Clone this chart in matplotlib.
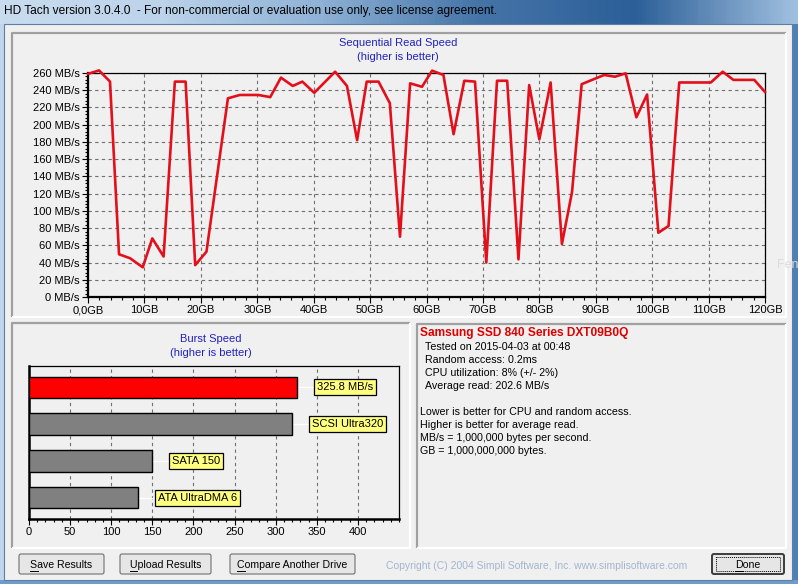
import numpy as np
import matplotlib
matplotlib.use("Agg")
import matplotlib.pyplot as plt
import matplotlib.patches as mpatches
from matplotlib.colors import LinearSegmentedColormap
from matplotlib.ticker import MultipleLocator

plt.rcParams['font.family'] = ['Liberation Sans', 'DejaVu Sans']

# --- Data ---
read_gb = [0, 1.95, 3.9, 5.5, 7.45, 9.7, 11.4, 13.4, 15.4, 17.3,
           19.0, 21.0, 24.8, 26.9, 30.2, 32.3, 34.2, 36.3, 38.0, 40.1,
           43.8, 45.9, 47.7, 49.4, 51.5, 53.5, 55.3, 57.1, 59.2, 61.0,
           63.0, 64.8, 66.7, 68.6, 70.6, 72.5, 74.3, 76.3, 78.2, 80.0,
           82.0, 84.0, 85.8, 87.5, 89.6, 91.5, 93.4, 95.3, 97.2, 99.1,
           101.1, 102.9, 104.8, 110.4, 112.5, 114.4, 118.1, 120.0]
read_mbs = [259, 263, 250, 49.6, 45, 34.5, 68, 47, 250, 250,
            37, 52.6, 230.6, 234.5, 234.5, 232, 254.6, 245, 250, 237,
            261.5, 245, 182, 250, 250, 225, 70, 248, 244, 262.7,
            257.7, 189, 251, 250, 40, 251, 251, 43.7, 246, 183,
            249, 61.5, 122, 247, 252.7, 257.7, 255.7, 259.6, 208.6, 235,
            74.6, 82.4, 249, 249, 261.5, 252, 252, 238]
gb_ticks = list(range(0, 121, 10))
gb_labels = ["0,0GB"] + [f"{g}GB" for g in gb_ticks[1:]]
mbs_ticks = list(range(0, 261, 20))
mbs_labels = [f"{m} MB/s" for m in mbs_ticks]

burst_names = ["325.8 MB/s", "SCSI Ultra320", "SATA 150", "ATA UltraDMA 6"]
burst_values = [325.8, 320, 150, 133]
burst_colors = ["#ff0000", "#808080", "#808080", "#808080"]
burst_ticks = list(range(0, 401, 50))

drive_name = "Samsung SSD 840 Series DXT09B0Q"
info_lines = ["Tested on 2015-04-03 at 00:48",
              "Random access: 0.2ms",
              "CPU utilization: 8% (+/- 2%)",
              "Average read: 202.6 MB/s"]
note_lines = ["Lower is better for CPU and random access.",
              "Higher is better for average read.",
              "MB/s = 1,000,000 bytes per second.",
              "GB = 1,000,000,000 bytes."]
buttons = ["Save Results", "Upload Results", "Compare Another Drive", "Done"]

W, H = 798, 584
BG = "#f0f0f0"

fig = plt.figure(figsize=(W / 100, H / 100), dpi=100)


def px_axes(x0, y0, x1, y1, **kw):
    return fig.add_axes([x0 / W, 1 - y1 / H, (x1 - x0) / W, (y1 - y0) / H], **kw)


# --- Window chrome ---
bg = px_axes(0, 0, W, H)
bg.set_xlim(0, W)
bg.set_ylim(H, 0)
bg.axis("off")
bg.add_patch(mpatches.Rectangle((0, 0), W, H, fc="#7fa6cf", ec="none", zorder=0.1))
cm = LinearSegmentedColormap.from_list("tb", ["#c9dcef", "#bcd3ea", "#8fb2d6",
                                             "#4574a8", "#2c5f98", "#9fbfdf"])
bg.imshow(np.linspace(0, 1, 200)[None, :], cmap=cm, extent=(0, W, 24, 0),
          aspect="auto", zorder=0.5)
bg.add_patch(mpatches.Rectangle((0, 24), 4, H, fc="#c1d6ec", ec="none", zorder=0.6))
bg.add_patch(mpatches.Rectangle((792, 24), 6, H, fc="#4f80b5", ec="none", zorder=0.6))
bg.add_patch(mpatches.Rectangle((0, 580), W, 4, fc="#6e9cca", ec="none", zorder=0.6))
bg.add_patch(mpatches.Rectangle((4, 24), 788, 556, fc=BG, ec="#5d7fa3", lw=0.8, zorder=0.7))
bg.text(4, 11, "HD Tach version 3.0.4.0  - For non-commercial or evaluation use only, see license agreement.",
        fontsize=8.6, va="center", ha="left", color="black", zorder=1)


def sunken(x0, y0, x1, y1):
    bg.plot([x0, x0, x1], [y1, y0, y0], color="#a0a0a0", lw=1.6, zorder=1, solid_capstyle="butt")
    bg.plot([x0, x1, x1], [y1, y1, y0], color="white", lw=1.6, zorder=1, solid_capstyle="butt")


sunken(12, 33, 786, 317)
sunken(12, 323, 410, 548)
sunken(417, 324, 786, 548)

# faint overlay text at the right edge
bg.text(777, 265, "Fen", fontsize=9, color="#dcdcdc", va="center", ha="left", zorder=1)

# --- Sequential read chart ---
bg.text(398, 43, "Sequential Read Speed", color="#2222bb", fontsize=8, ha="center", va="center")
bg.text(398, 57, "(higher is better)", color="#2222bb", fontsize=8, ha="center", va="center")

ax = px_axes(88, 73, 765, 297)
ax.set_facecolor(BG)
ax.plot(read_gb, read_mbs, color="#e3101c", lw=1.9, clip_on=False, zorder=3)
ax.set_xlim(0, 120)
ax.set_ylim(0, 260)
ax.set_xticks(gb_ticks)
ax.set_xticklabels(gb_labels)
ax.set_yticks(mbs_ticks)
ax.set_yticklabels(mbs_labels)
ax.xaxis.set_minor_locator(MultipleLocator(2))
ax.yaxis.set_minor_locator(MultipleLocator(4))
ax.tick_params(axis="both", which="major", length=4, width=0.8, labelsize=8, pad=2)
ax.tick_params(axis="both", which="minor", length=2, width=0.8)
ax.grid(True, which="major", color="#707070", ls=(0, (3, 3)), lw=0.8)
for s in ax.spines.values():
    s.set_linewidth(0.9)
ax.spines["left"].set_linewidth(1.6)
ax.spines["bottom"].set_linewidth(1.6)

# --- Burst speed chart ---
bg.text(211, 339, "Burst Speed", color="#2222bb", fontsize=8, ha="center", va="center")
bg.text(211, 353, "(higher is better)", color="#2222bb", fontsize=8, ha="center", va="center")

bx = px_axes(29, 366, 399, 519)
bx.set_facecolor(BG)
ypos = np.arange(len(burst_values))
bx.barh(ypos, burst_values, height=0.57, color=burst_colors, edgecolor="black", lw=1, zorder=3)
for y, v, name in zip(ypos, burst_values, burst_names):
    bx.plot([v, v + 24], [y, y], color="white", lw=1, zorder=2)
    bx.text(v + 24, y, name, fontsize=8, va="center", ha="left", zorder=4,
            bbox=dict(boxstyle="square,pad=0.25", fc="#ffff80", ec="black", lw=0.9))
bx.set_xlim(0, 450)
bx.set_ylim(len(burst_values) - 0.43, -0.57)
bx.set_xticks(burst_ticks)
bx.xaxis.set_minor_locator(MultipleLocator(10))
bx.set_yticks([])
bx.tick_params(axis="x", which="major", length=4, width=0.8, labelsize=8, pad=2)
bx.tick_params(axis="x", which="minor", length=2, width=0.8)
bx.grid(True, axis="x", color="#707070", ls=(0, (3, 3)), lw=0.8, zorder=1)
for s in bx.spines.values():
    s.set_linewidth(0.9)
bx.spines["left"].set_linewidth(1.8)
bx.spines["bottom"].set_linewidth(1.8)

# --- Info panel ---
bg.text(420, 336, drive_name, color="#dd0000", fontsize=8.6, fontweight="bold", va="baseline", ha="left")
for i, line in enumerate(info_lines):
    bg.text(425, 349.5 + 13.1 * i, line, fontsize=7.7, va="baseline", ha="left")
for i, line in enumerate(note_lines):
    bg.text(420, 415 + 13 * i, line, fontsize=7.7, va="baseline", ha="left")

# --- Buttons ---
btn_x = [(19, 104), (120, 211), (230, 355), (712, 784)]
fig.canvas.draw()
renderer = fig.canvas.get_renderer()
for (x0, x1), label in zip(btn_x, buttons):
    default = label == "Done"
    bg.add_patch(mpatches.FancyBboxPatch((x0, 554), x1 - x0, 20,
                                         boxstyle="round,pad=0,rounding_size=2",
                                         fc="#e6e6e6", ec="#3c3c3c" if default else "#707070",
                                         lw=1.4 if default else 0.8, zorder=2))
    if default:
        bg.add_patch(mpatches.Rectangle((x0 + 4, 557), x1 - x0 - 8, 14, fc="none",
                                        ec="black", lw=0.7, ls=(0, (1, 1)), zorder=3))
    t = bg.text((x0 + x1) / 2, 564.5, label, fontsize=7.6, ha="center", va="center", zorder=4)
    bb = t.get_window_extent(renderer)
    t0 = bg.text(0, 0, label[0], fontsize=7.6)
    cw = t0.get_window_extent(renderer).width
    t0.remove()
    ux0 = bg.transData.inverted().transform((bb.x0, 0))[0]
    bg.plot([ux0, ux0 + cw], [571, 571], color="black", lw=0.7, zorder=4)

bg.text(386, 566, "Copyright (C) 2004 Simpli Software, Inc. www.simplisoftware.com",
        fontsize=7.5, color="#a3b5cf", va="center", ha="left")

fig.savefig("out.png", dpi=100, facecolor=fig.get_facecolor())
